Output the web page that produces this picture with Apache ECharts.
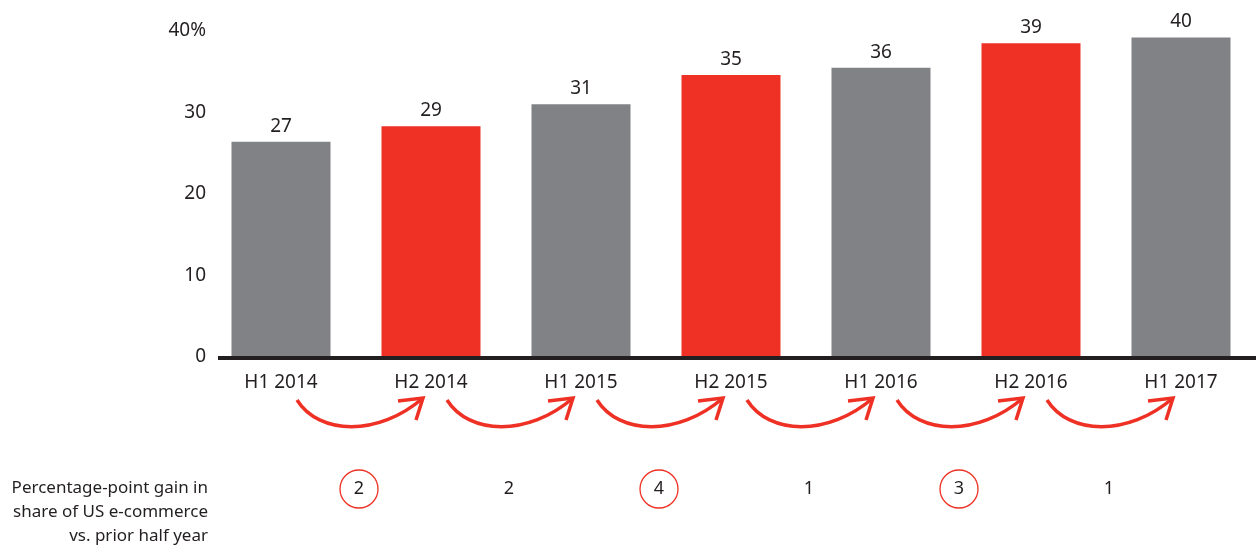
<!DOCTYPE html>
<html>
<head>
<meta charset="utf-8">
<script src="https://cdn.jsdelivr.net/npm/echarts@6/dist/echarts.min.js"></script>
<style>
  html, body { margin: 0; padding: 0; background: #fff; }
  #chart { width: 1256px; height: 548px; }
</style>
</head>
<body>
<div id="chart"></div>
<script>
// data
var periods = ['H1 2014', 'H2 2014', 'H1 2015', 'H2 2015', 'H1 2016', 'H2 2016', 'H1 2017'];
var shares = [26.4, 28.3, 31.0, 34.6, 35.5, 38.5, 39.2];
var shareLabels = ['27', '29', '31', '35', '36', '39', '40'];
var gains = [2, 2, 4, 1, 3, 1];
var yTicks = [0, 10, 20, 30, 40];
var gainNote = ['Percentage-point gain in', 'share of US e-commerce', 'vs. prior half year'];

var RED = '#ee3124';
var GREY = '#818285';
var INK = '#231f20';
var FONT = 'Noto Sans';

var chart = echarts.init(document.getElementById('chart'));

function isH2(name) { return name.indexOf('H2') === 0; }

chart.setOption({
  animation: false,
  textStyle: { fontFamily: FONT },
  grid: { left: 206, right: 0, top: 31, bottom: 191 },
  xAxis: {
    type: 'category',
    data: periods,
    axisLine: { show: false },
    axisTick: { show: false },
    axisLabel: { color: INK, fontSize: 19, margin: 16 }
  },
  yAxis: {
    type: 'value',
    min: yTicks[0],
    max: yTicks[yTicks.length - 1],
    interval: 10,
    splitLine: { show: false },
    axisLine: { show: false },
    axisTick: { show: false },
    axisLabel: {
      color: INK, fontSize: 19, margin: 0,
      formatter: function (v) { return v === yTicks[yTicks.length - 1] ? v + '%' : '' + v; }
    }
  },
  series: [
    {
      type: 'bar',
      barWidth: 99,
      data: shares.map(function (v, i) {
        return { value: v, itemStyle: { color: isH2(periods[i]) ? RED : GREY } };
      }),
      label: {
        show: true, position: 'top', distance: 6,
        color: INK, fontSize: 19,
        formatter: function (p) { return shareLabels[p.dataIndex]; }
      }
    },
    {
      // baseline, starting a little right of the tick labels
      type: 'custom',
      clip: false,
      silent: true,
      z: 5,
      data: [[0, 0]],
      renderItem: function (params, api) {
        var cs = params.coordSys;
        var y = api.coord([0, 0])[1] + 1;
        return {
          type: 'line',
          shape: { x1: cs.x + 12, y1: y, x2: cs.x + cs.width, y2: y },
          style: { stroke: INK, lineWidth: 4 }
        };
      }
    },
    {
      // arrows between periods and the gain row under them
      type: 'custom',
      clip: false,
      silent: true,
      data: gains.map(function (g, i) { return [i, g]; }),
      renderItem: function (params, api) {
        var i = api.value(0);
        var g = api.value(1);
        var a = api.coord([i, 0]);
        var b = api.coord([i + 1, 0]);
        var y0 = a[1];
        var sx = a[0] + 16, sy = y0 + 43;
        var ex = b[0] - 8, ey = y0 + 41;
        var stroke = { stroke: RED, lineWidth: 3.5, fill: null };
        var children = [
          {
            type: 'bezierCurve',
            shape: { x1: sx, y1: sy, cpx1: sx + 22, cpy1: y0 + 78, cpx2: ex - 45, cpy2: y0 + 80, x2: ex, y2: ey },
            style: stroke
          },
          {
            type: 'polyline',
            shape: { points: [[ex - 25, ey + 3], [ex, ey], [ex - 7, ey + 22]] },
            style: stroke
          }
        ];
        var mx = (a[0] + b[0]) / 2 + 3;
        var my = y0 + 132;
        if (isH2(periods[i + 1])) {
          children.push({
            type: 'circle',
            shape: { cx: mx, cy: my, r: 19 },
            style: { stroke: RED, lineWidth: 1.3, fill: null }
          });
        }
        children.push({
          type: 'text',
          style: {
            x: mx, y: my, text: String(g),
            fill: INK, font: '18px "' + FONT + '"',
            align: 'center', verticalAlign: 'middle'
          }
        });
        return { type: 'group', children: children };
      }
    }
  ],
  graphic: gainNote.map(function (line, k) {
    return {
      type: 'text',
      right: 1256 - 208,
      top: 480 + k * 24,
      style: { text: line, fill: INK, font: '17px "' + FONT + '"', align: 'right' }
    };
  })
});
</script>
</body>
</html>
